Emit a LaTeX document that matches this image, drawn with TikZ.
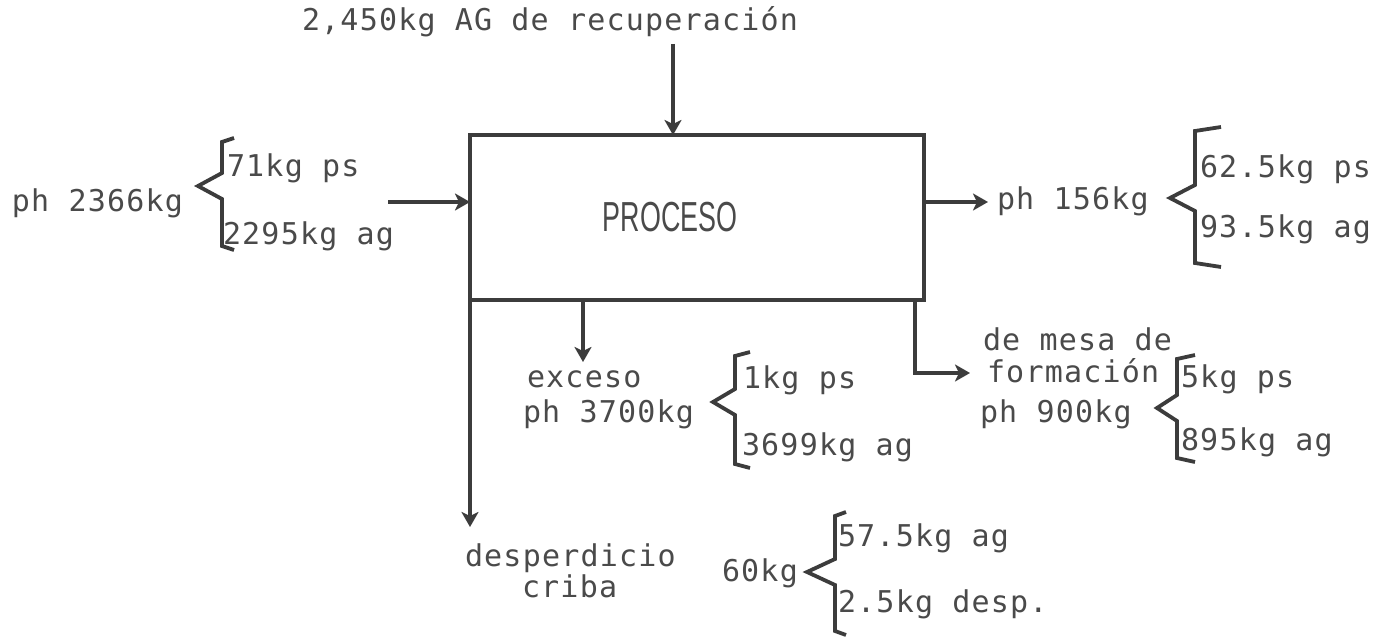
\documentclass[tikz,border=0pt]{standalone}
\usepackage{fontspec}
\usetikzlibrary{arrows.meta}
\newfontfamily\tw[LetterSpace=4.0]{DejaVu Sans Mono}
\newfontfamily\boxfont{Liberation Sans}
\definecolor{ink}{HTML}{3C3C3C}
\definecolor{txt}{HTML}{4A4A4A}
\newcommand{\flowbrace}[6]{%
  \draw[brc] ({#6},{#2}) -- ({#1},{#2+4}) -- ({#1},{#4-13}) -- ({#3},{#4}) -- ({#1},{#4+13}) -- ({#1},{#5-4}) -- ({#6},{#5});}
\begin{document}
\begin{tikzpicture}[x=1pt,y=-1pt,
  ln/.style={draw=ink,line width=3.4pt},
  arr/.style={ln,-{Stealth[length=15pt,width=17pt,inset=4pt]}},
  brc/.style={draw=ink,line width=3.8pt,line join=miter},
  lbl/.style={anchor=base west,inner sep=0pt,outer sep=0pt,text=txt,font=\tw\fontsize{30}{36}\selectfont}]
\useasboundingbox[fill=white] (0,0) rectangle (1390,639);
% process box
\node[ln,rectangle,minimum width=454pt,minimum height=165pt,inner sep=0pt,outer sep=0pt] (box) at (697,217.5) {};
\node[inner sep=0pt,text=txt] (proc) at (670,217) {\boxfont\fontsize{42}{44}\selectfont\scalebox{0.64}[1]{PROCESO}};
% title and top input
\node[lbl] (title) at (302,31) {2,450kg AG de recuperación};
\coordinate (topsrc) at (673,44);
\draw[arr] (topsrc) -- (topsrc |- box.north);
% left input
\node[lbl] (inph) at (12,212) {ph 2366kg};
\node[lbl] (inps) at (227,177) {71kg ps};
\node[lbl] (inag) at (223,245) {2295kg ag};
\flowbrace{222}{138}{198}{186}{250}{234}
\coordinate (insrc) at (388,202);
\draw[arr] (insrc) -- (insrc -| box.west);
% right output
\coordinate (outend) at (988,202);
\draw[arr] (outend -| box.east) -- (outend);
\node[lbl] (outph) at (997,210) {ph 156kg};
\node[lbl] (outps) at (1200,178) {62.5kg ps};
\node[lbl] (outag) at (1200,238) {93.5kg ag};
\flowbrace{1195}{127}{1170}{198}{267}{1221}
% exceso
\coordinate (excend) at (583,362);
\draw[arr] (excend |- box.south) -- (excend);
\node[lbl] (exc1) at (527,387) {exceso};
\node[lbl] (exc2) at (523,422) {ph 3700kg};
\node[lbl] (excps) at (743,388) {1kg ps};
\node[lbl] (excag) at (742,455) {3699kg ag};
\flowbrace{735}{352}{713}{402}{468}{750}
% mesa de formacion
\coordinate (mesacorner) at (915,373);
\coordinate (mesaend) at (970,373);
\draw[arr] (mesacorner |- box.south) -- (mesacorner) -- (mesaend);
\node[lbl] (mesa1) at (983,350) {de mesa de};
\node[lbl] (mesa2) at (987,382) {formación};
\node[lbl] (mesa3) at (980,422) {ph 900kg};
\node[lbl] (mesaps) at (1181,387) {5kg ps};
\node[lbl] (mesaag) at (1181,450) {895kg ag};
\flowbrace{1177}{355}{1157}{408}{462}{1195}
% desperdicio
\coordinate (despend) at (box.south west |- 0,527);
\draw[arr] (box.south west) -- (despend);
\node[lbl] (desp1) at (465,566) {desperdicio};
\node[lbl] (desp2) at (522,597) {criba};
\node[lbl] (desp3) at (722,581) {60kg};
\node[lbl] (despag) at (838,546) {57.5kg ag};
\node[lbl] (despds) at (838,612) {2.5kg desp.};
\flowbrace{835}{512}{807}{572}{635}{846}
\end{tikzpicture}
\end{document}
